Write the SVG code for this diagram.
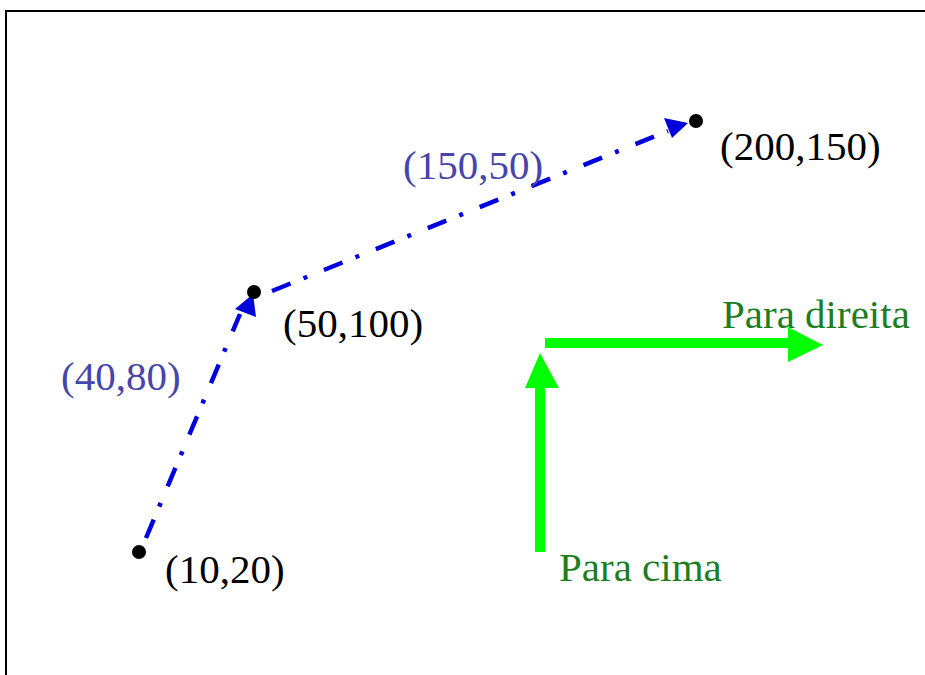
<svg xmlns="http://www.w3.org/2000/svg" width="925" height="675" viewBox="0 0 925 675">
<defs>
<style>
text { font-family: "Liberation Serif", "Times New Roman", serif; font-size: 41px; }
.lbl { fill: #000; }
.vec { fill: #4646aa; }
.dir { fill: #1e7d1e; }
.dash { stroke: #0000dd; stroke-width: 4.5; fill: none; stroke-dasharray: 20 14 4 18; }
.green { stroke: #00ff00; stroke-width: 10; fill: none; }
</style>
</defs>
<rect x="0" y="0" width="925" height="675" fill="#fff"/>
<path d="M6,675 V11 H925" fill="none" stroke="#000" stroke-width="2"/>

<g id="connectors">
<line class="dash" x1="146" y1="538" x2="240" y2="314"/>
<polygon points="253,294 256,317 235,309" fill="#0000dd"/>
<line class="dash" x1="272" y1="291" x2="668" y2="131"/>
<polygon points="688,123 672,138 664,118" fill="#0000dd"/>
<line class="green" x1="545" y1="343" x2="790" y2="343"/>
<polygon points="788,327 823,345 788,362" fill="#00ff00"/>
<line class="green" x1="540" y1="552" x2="540" y2="386"/>
<polygon points="525,388 540,353 559,388" fill="#00ff00"/>
</g>

<g id="p1"><circle cx="139" cy="552" r="7" fill="#000"/><text class="lbl" x="165" y="583">(10,20)</text></g>
<g id="p2"><circle cx="254" cy="292" r="7" fill="#000"/><text class="lbl" x="283" y="337">(50,100)</text></g>
<g id="p3"><circle cx="696" cy="121" r="7" fill="#000"/><text class="lbl" x="720" y="160">(200,150)</text></g>
<g id="v1"><text class="vec" x="61" y="390">(40,80)</text></g>
<g id="v2"><text class="vec" x="403" y="179">(150,50)</text></g>
<g id="right"><text class="dir" x="722" y="328">Para direita</text></g>
<g id="up"><text class="dir" x="559" y="581">Para cima</text></g>
</svg>
